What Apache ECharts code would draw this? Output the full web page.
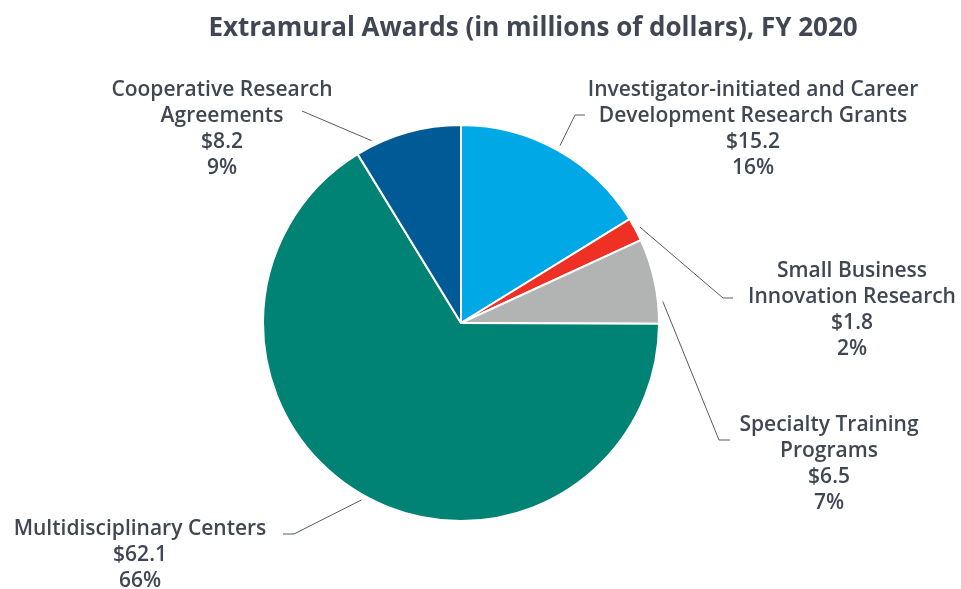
<!DOCTYPE html>
<html>
<head>
<meta charset="utf-8">
<title>Extramural Awards FY 2020</title>
<script src="https://cdn.jsdelivr.net/npm/echarts@6/dist/echarts.min.js"></script>
<style>
  html, body { margin: 0; padding: 0; background: #fff; }
  #chart { width: 961px; height: 589px; }
</style>
</head>
<body>
<div id="chart"></div>
<script>
// slices, clockwise from 12 o'clock
const categories = [
  'Investigator-initiated and Career\nDevelopment Research Grants',
  'Small Business\nInnovation Research',
  'Specialty Training\nPrograms',
  'Multidisciplinary Centers',
  'Cooperative Research\nAgreements'
];
const awards = [15.2, 1.8, 6.5, 62.1, 8.2];
const colors = ['#00a9e6', '#ee3124', '#b2b4b4', '#008274', '#005a96'];

// layout of the pie and its callout labels
const CX = 461, CY = 323, R = 198;
const labelPos = [
  { x: 753, y: 129, elbow: [575, 115], end: [585, 115], at: 0.5 },
  { x: 852, y: 310, elbow: [723, 298], end: [733, 298], at: 0.5 },
  { x: 829, y: 464, elbow: [719, 440], end: [730, 440], at: 0.75 },
  { x: 140, y: 555, elbow: [294, 534], end: [283, 534], at: 0.5 },
  { x: 222, y: 129, elbow: [302, 111], end: [302, 111], at: 0.17 }
];

const total = awards.reduce((a, b) => a + b, 0);
const startFrac = [];
awards.reduce((acc, v) => { startFrac.push(acc); return acc + v; }, 0);

const chart = echarts.init(document.getElementById('chart'));

chart.setOption({
  backgroundColor: '#fff',
  title: {
    text: 'Extramural Awards (in millions of dollars), FY 2020',
    left: 528,
    top: 11,
    textAlign: 'center',
    textStyle: {
      fontFamily: 'Open Sans',
      fontWeight: 'bold',
      fontSize: 26,
      color: '#404652'
    }
  },
  series: [
    {
      type: 'pie',
      center: [CX, CY],
      radius: R,
      startAngle: 90,
      clockwise: true,
      animation: false,
      data: awards.map((v, i) => ({
        name: categories[i],
        value: v,
        itemStyle: { color: colors[i] }
      })),
      itemStyle: { borderColor: '#fff', borderWidth: 2 },
      label: {
        show: true,
        position: 'outside',
        fontFamily: 'Open Sans',
        fontWeight: 600,
        fontSize: 21,
        lineHeight: 26,
        color: '#404652',
        align: 'center',
        formatter: p => p.name + '\n$' + p.value.toFixed(1) + '\n' + Math.round(p.percent) + '%'
      },
      labelLine: {
        show: true,
        lineStyle: { color: '#555a63', width: 1 }
      },
      labelLayout: function (params) {
        const i = params.dataIndex;
        const lp = labelPos[i];
        const a = 2 * Math.PI * (startFrac[i] + lp.at * awards[i]) / total;
        const r = R + 5;
        const start = [CX + r * Math.sin(a), CY - r * Math.cos(a)];
        return {
          x: lp.x,
          y: lp.y,
          align: 'center',
          verticalAlign: 'middle',
          labelLinePoints: [start, lp.elbow, lp.end]
        };
      }
    }
  ]
});
</script>
</body>
</html>
